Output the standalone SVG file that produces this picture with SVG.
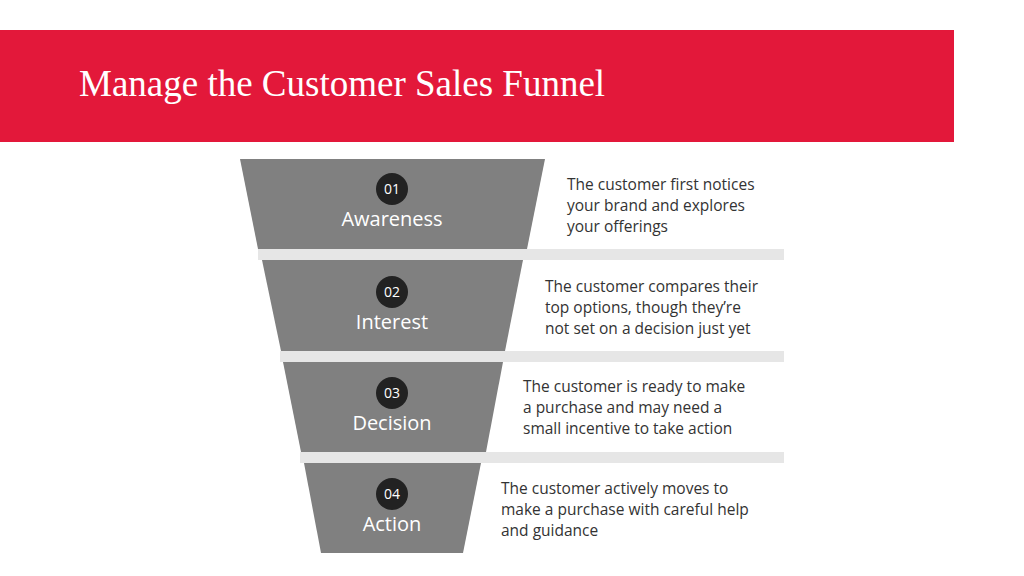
<svg xmlns="http://www.w3.org/2000/svg" width="1024" height="576" viewBox="0 0 1024 576">
<style>
.band{fill:#808080}
.strip{fill:#e6e6e6}
.num{fill:#222}
.nt{font-family:"Open Sans","Liberation Sans",sans-serif;font-size:14px;fill:#fff;text-anchor:middle}
.lbl{font-family:"Open Sans","Liberation Sans",sans-serif;font-size:20px;fill:#fff;text-anchor:middle}
.desc{font-family:"Open Sans","Liberation Sans",sans-serif;font-size:15.5px;fill:#333}
</style>
<rect width="1024" height="576" fill="#fff"/>
<rect x="0" y="30" width="954" height="112" fill="#e3183a"/>
<text x="79" y="96" font-family="'Liberation Serif',serif" font-size="37" fill="#fff">Manage the Customer Sales Funnel</text>
<g id="connectors">
<rect class="strip" x="258" y="249" width="526" height="11"/>
<rect class="strip" x="280" y="351" width="504" height="11"/>
<rect class="strip" x="300" y="452" width="484" height="11"/>
</g>
<g id="n1">
<polygon class="band" points="240,159 545,159 527,249 258,249"/>
<circle class="num" cx="392" cy="189" r="16"/><text class="nt" x="392" y="194">01</text>
<text class="lbl" x="392" y="226">Awareness</text>
<text class="desc"><tspan x="567" y="190">The customer first notices</tspan><tspan x="567" y="211">your brand and explores</tspan><tspan x="567" y="232">your offerings</tspan></text>
</g>
<g id="n2">
<polygon class="band" points="262,260 523,260 505,351 281,351"/>
<circle class="num" cx="392" cy="292" r="16"/><text class="nt" x="392" y="297">02</text>
<text class="lbl" x="392" y="329">Interest</text>
<text class="desc"><tspan x="545" y="292">The customer compares their</tspan><tspan x="545" y="313">top options, though they’re</tspan><tspan x="545" y="334">not set on a decision just yet</tspan></text>
</g>
<g id="n3">
<polygon class="band" points="283,362 503,362 486,452 301,452"/>
<circle class="num" cx="392" cy="393" r="16"/><text class="nt" x="392" y="398">03</text>
<text class="lbl" x="392" y="430">Decision</text>
<text class="desc"><tspan x="523" y="392">The customer is ready to make</tspan><tspan x="523" y="413">a purchase and may need a</tspan><tspan x="523" y="434">small incentive to take action</tspan></text>
</g>
<g id="n4">
<polygon class="band" points="304,463 481,463 463,553 321,553"/>
<circle class="num" cx="392" cy="494" r="16"/><text class="nt" x="392" y="499">04</text>
<text class="lbl" x="392" y="531">Action</text>
<text class="desc"><tspan x="501" y="494">The customer actively moves to</tspan><tspan x="501" y="515">make a purchase with careful help</tspan><tspan x="501" y="536">and guidance</tspan></text>
</g>
</svg>
